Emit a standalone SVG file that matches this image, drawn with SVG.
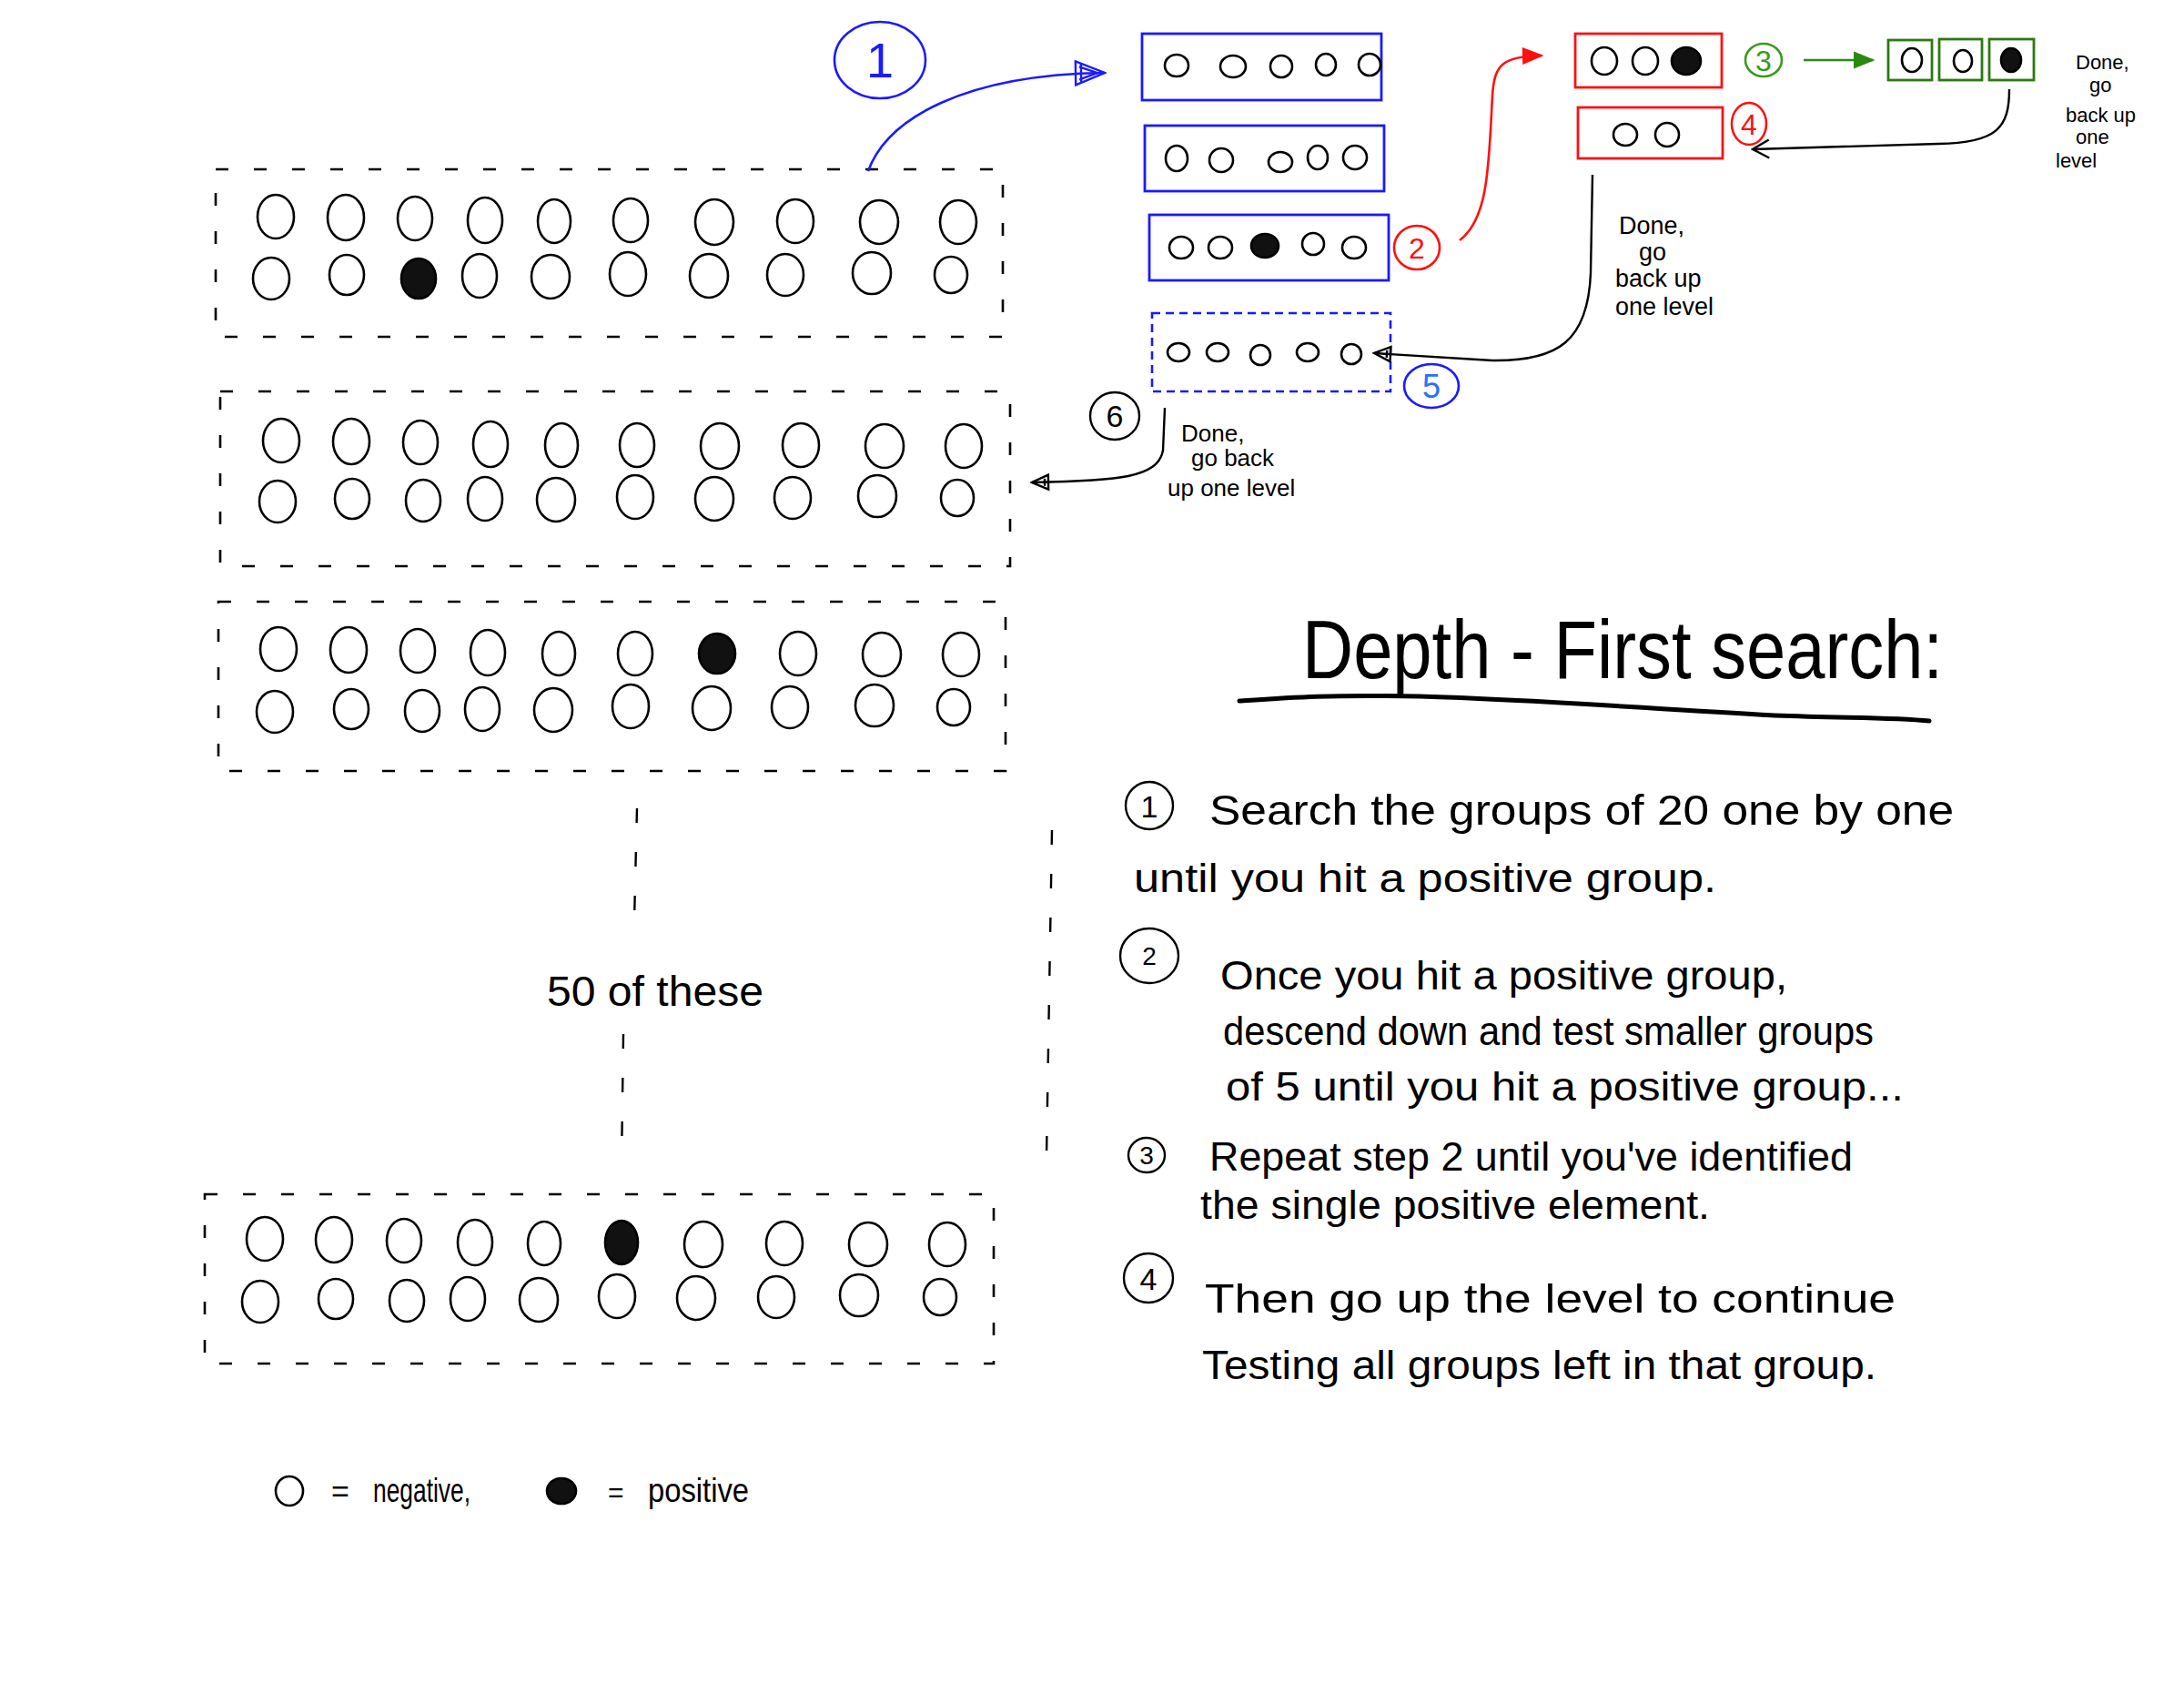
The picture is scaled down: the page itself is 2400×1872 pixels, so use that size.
<svg xmlns="http://www.w3.org/2000/svg" width="2400" height="1872" viewBox="0 0 2400 1872">
<style>
.bg{fill:#ffffff}
.c{fill:none;stroke:#000;stroke-width:2.6}
.p{fill:#111;stroke:#000;stroke-width:2.6}
.grp{fill:none;stroke:#000;stroke-width:2.6;stroke-dasharray:14 28}
.vd{fill:none;stroke:#000;stroke-width:2.4;stroke-dasharray:16 32}
.bbox{fill:none;stroke:#1a1aff;stroke-width:2.8}
.bdash{fill:none;stroke:#1a1aff;stroke-width:2.6;stroke-dasharray:9 6}
.rbox{fill:none;stroke:#ff1010;stroke-width:2.8}
.gbox{fill:none;stroke:#2a7a10;stroke-width:2.8}
.t{font-family:"Liberation Sans","DejaVu Sans",sans-serif;fill:#000}
.tb{font-family:"Liberation Sans","DejaVu Sans",sans-serif;fill:#1a1aff}
.tr{font-family:"Liberation Sans","DejaVu Sans",sans-serif;fill:#ff1010}
.tg{font-family:"Liberation Sans","DejaVu Sans",sans-serif;fill:#3a9a1a}
.blk{fill:none;stroke:#000;stroke-width:2.4}
.blu{fill:none;stroke:#1a1aff;stroke-width:2.6}
.red{fill:none;stroke:#ff1010;stroke-width:2.6}
.grn{fill:none;stroke:#2a8a10;stroke-width:2.6}
</style>
<defs>
<marker id="mBlue" viewBox="0 0 36 30" refX="34" refY="15" markerWidth="36" markerHeight="30" markerUnits="userSpaceOnUse" orient="auto">
<path d="M2,2 L34,15 L2,28 Z M6,8 L26,15 M6,22 L26,15 M8,4 L8,26" fill="none" stroke="#1a1aff" stroke-width="2.4"/>
</marker>
<marker id="mRed" viewBox="0 0 24 20" refX="22" refY="10" markerWidth="24" markerHeight="20" markerUnits="userSpaceOnUse" orient="auto">
<path d="M2,2 L22,10 L2,18 Z" fill="#ff1010" stroke="#ff1010" stroke-width="2"/>
</marker>
<marker id="mGreen" viewBox="0 0 24 20" refX="22" refY="10" markerWidth="24" markerHeight="20" markerUnits="userSpaceOnUse" orient="auto">
<path d="M2,2 L22,10 L2,18 Z" fill="#2a8a10" stroke="#2a8a10" stroke-width="2"/>
</marker>
<marker id="mV" viewBox="0 0 24 24" refX="22" refY="12" markerWidth="24" markerHeight="24" markerUnits="userSpaceOnUse" orient="auto">
<path d="M4,2 L22,12 L4,22" fill="none" stroke="#000" stroke-width="2.4"/>
</marker>
<marker id="mTri" viewBox="0 0 22 20" refX="20" refY="10" markerWidth="22" markerHeight="20" markerUnits="userSpaceOnUse" orient="auto">
<path d="M2,2 L20,10 L2,18 Z M6,6 L6,14" fill="none" stroke="#000" stroke-width="2.4"/>
</marker>
</defs>
<rect class="bg" x="0" y="0" width="2400" height="1872"/>

<!-- Group of 20 #1 -->
<g id="group1">
<rect class="grp" x="237" y="186" width="865" height="184"/>
<ellipse class="c" cx="303" cy="238" rx="20" ry="24"/><ellipse class="c" cx="380" cy="239" rx="20" ry="25"/><ellipse class="c" cx="456" cy="240" rx="19" ry="24"/><ellipse class="c" cx="533" cy="242" rx="19" ry="25"/><ellipse class="c" cx="609" cy="243" rx="18" ry="24"/><ellipse class="c" cx="693" cy="242" rx="19" ry="24"/><ellipse class="c" cx="785" cy="244" rx="21" ry="25"/><ellipse class="c" cx="874" cy="243" rx="20" ry="24"/><ellipse class="c" cx="966" cy="244" rx="21" ry="24"/><ellipse class="c" cx="1053" cy="244" rx="20" ry="24"/>
<ellipse class="c" cx="298" cy="306" rx="20" ry="23"/><ellipse class="c" cx="381" cy="302" rx="19" ry="22"/><ellipse class="p" cx="460" cy="306" rx="19" ry="22"/><ellipse class="c" cx="527" cy="303" rx="19" ry="24"/><ellipse class="c" cx="605" cy="304" rx="21" ry="24"/><ellipse class="c" cx="690" cy="301" rx="20" ry="24"/><ellipse class="c" cx="779" cy="303" rx="21" ry="24"/><ellipse class="c" cx="863" cy="302" rx="20" ry="23"/><ellipse class="c" cx="958" cy="300" rx="21" ry="23"/><ellipse class="c" cx="1045" cy="302" rx="18" ry="20"/>
</g>

<!-- Group of 20 #2 -->
<g id="group2">
<rect class="grp" x="242" y="430" width="868" height="192"/>
<ellipse class="c" cx="309" cy="484" rx="20" ry="24"/><ellipse class="c" cx="386" cy="485" rx="20" ry="25"/><ellipse class="c" cx="462" cy="486" rx="19" ry="24"/><ellipse class="c" cx="539" cy="488" rx="19" ry="25"/><ellipse class="c" cx="617" cy="489" rx="18" ry="24"/><ellipse class="c" cx="700" cy="489" rx="19" ry="24"/><ellipse class="c" cx="791" cy="490" rx="21" ry="25"/><ellipse class="c" cx="880" cy="489" rx="20" ry="24"/><ellipse class="c" cx="972" cy="490" rx="21" ry="24"/><ellipse class="c" cx="1059" cy="490" rx="20" ry="24"/>
<ellipse class="c" cx="305" cy="551" rx="20" ry="23"/><ellipse class="c" cx="387" cy="548" rx="19" ry="22"/><ellipse class="c" cx="465" cy="550" rx="19" ry="23"/><ellipse class="c" cx="533" cy="548" rx="19" ry="24"/><ellipse class="c" cx="611" cy="549" rx="21" ry="24"/><ellipse class="c" cx="698" cy="546" rx="20" ry="24"/><ellipse class="c" cx="785" cy="548" rx="21" ry="24"/><ellipse class="c" cx="871" cy="547" rx="20" ry="23"/><ellipse class="c" cx="964" cy="545" rx="21" ry="23"/><ellipse class="c" cx="1052" cy="547" rx="18" ry="20"/>
</g>

<!-- Group of 20 #3 -->
<g id="group3">
<rect class="grp" x="240" y="661" width="865" height="186"/>
<ellipse class="c" cx="306" cy="713" rx="20" ry="24"/><ellipse class="c" cx="383" cy="714" rx="20" ry="25"/><ellipse class="c" cx="459" cy="715" rx="19" ry="24"/><ellipse class="c" cx="536" cy="717" rx="19" ry="25"/><ellipse class="c" cx="614" cy="718" rx="18" ry="24"/><ellipse class="c" cx="698" cy="718" rx="19" ry="24"/><ellipse class="p" cx="788" cy="718" rx="20" ry="22"/><ellipse class="c" cx="877" cy="718" rx="20" ry="24"/><ellipse class="c" cx="969" cy="719" rx="21" ry="24"/><ellipse class="c" cx="1056" cy="719" rx="20" ry="24"/>
<ellipse class="c" cx="302" cy="782" rx="20" ry="23"/><ellipse class="c" cx="386" cy="779" rx="19" ry="22"/><ellipse class="c" cx="464" cy="781" rx="19" ry="23"/><ellipse class="c" cx="530" cy="779" rx="19" ry="24"/><ellipse class="c" cx="608" cy="780" rx="21" ry="24"/><ellipse class="c" cx="693" cy="776" rx="20" ry="24"/><ellipse class="c" cx="782" cy="778" rx="21" ry="24"/><ellipse class="c" cx="868" cy="777" rx="20" ry="23"/><ellipse class="c" cx="961" cy="775" rx="21" ry="23"/><ellipse class="c" cx="1048" cy="777" rx="18" ry="20"/>
</g>

<!-- Group of 20 #4 (last) -->
<g id="group4">
<rect class="grp" x="225" y="1312" width="867" height="186"/>
<ellipse class="c" cx="291" cy="1361" rx="20" ry="24"/><ellipse class="c" cx="367" cy="1362" rx="20" ry="25"/><ellipse class="c" cx="444" cy="1363" rx="19" ry="24"/><ellipse class="c" cx="522" cy="1365" rx="19" ry="25"/><ellipse class="c" cx="598" cy="1366" rx="18" ry="24"/><ellipse class="p" cx="683" cy="1365" rx="18" ry="24"/><ellipse class="c" cx="773" cy="1367" rx="21" ry="25"/><ellipse class="c" cx="862" cy="1366" rx="20" ry="24"/><ellipse class="c" cx="954" cy="1367" rx="21" ry="24"/><ellipse class="c" cx="1041" cy="1367" rx="20" ry="24"/>
<ellipse class="c" cx="286" cy="1430" rx="20" ry="23"/><ellipse class="c" cx="369" cy="1427" rx="19" ry="22"/><ellipse class="c" cx="447" cy="1429" rx="19" ry="23"/><ellipse class="c" cx="514" cy="1427" rx="19" ry="24"/><ellipse class="c" cx="592" cy="1428" rx="21" ry="24"/><ellipse class="c" cx="678" cy="1424" rx="20" ry="24"/><ellipse class="c" cx="765" cy="1426" rx="21" ry="24"/><ellipse class="c" cx="853" cy="1425" rx="20" ry="23"/><ellipse class="c" cx="944" cy="1423" rx="21" ry="23"/><ellipse class="c" cx="1033" cy="1425" rx="18" ry="20"/>
</g>

<!-- continuation marks and label -->
<g id="continuation">
<path class="vd" d="M700,888 L697,1012"/>
<path class="vd" d="M685,1136 L683,1280"/>
<path class="vd" d="M1156,912 L1150,1270"/>
<text class="t" x="601" y="1105" font-size="46" textLength="238" lengthAdjust="spacingAndGlyphs">50 of these</text>
</g>

<!-- level-2 groups of 5 -->
<g id="sub1">
<rect class="bbox" x="1255" y="37" width="263" height="73"/>
<ellipse class="c" cx="1293" cy="72" rx="13" ry="12"/><ellipse class="c" cx="1355" cy="73" rx="14" ry="12"/><ellipse class="c" cx="1408" cy="73" rx="12" ry="12"/><ellipse class="c" cx="1457" cy="71" rx="11" ry="12"/><ellipse class="c" cx="1505" cy="71" rx="12" ry="12"/>
</g>
<g id="sub2">
<rect class="bbox" x="1258" y="138" width="263" height="72"/>
<ellipse class="c" cx="1293" cy="174" rx="12" ry="14"/><ellipse class="c" cx="1342" cy="176" rx="13" ry="13"/><ellipse class="c" cx="1407" cy="178" rx="13" ry="11"/><ellipse class="c" cx="1448" cy="173" rx="11" ry="13"/><ellipse class="c" cx="1489" cy="173" rx="13" ry="13"/>
</g>
<g id="sub3">
<rect class="bbox" x="1263" y="236" width="263" height="72"/>
<ellipse class="c" cx="1298" cy="272" rx="13" ry="12"/><ellipse class="c" cx="1341" cy="272" rx="13" ry="12"/><ellipse class="p" cx="1390" cy="270" rx="15" ry="13"/><ellipse class="c" cx="1443" cy="268" rx="12" ry="12"/><ellipse class="c" cx="1488" cy="272" rx="13" ry="12"/>
</g>
<g id="sub4">
<rect class="bdash" x="1266" y="344" width="262" height="86"/>
<ellipse class="c" cx="1295" cy="387" rx="12" ry="10"/><ellipse class="c" cx="1338" cy="387" rx="12" ry="10"/><ellipse class="c" cx="1385" cy="390" rx="11" ry="11"/><ellipse class="c" cx="1437" cy="387" rx="12" ry="10"/><ellipse class="c" cx="1485" cy="389" rx="11" ry="11"/>
</g>

<!-- level-3 groups -->
<g id="sub3a">
<rect class="rbox" x="1731" y="37" width="161" height="59"/>
<ellipse class="c" cx="1763" cy="67" rx="14" ry="15"/><ellipse class="c" cx="1808" cy="67" rx="14" ry="15"/><ellipse class="p" cx="1853" cy="67" rx="16" ry="15"/>
</g>
<g id="sub3b">
<rect class="rbox" x="1734" y="118" width="159" height="56"/>
<ellipse class="c" cx="1786" cy="148" rx="13" ry="12"/><ellipse class="c" cx="1832" cy="148" rx="13" ry="13"/>
</g>

<!-- single elements -->
<g id="single1"><rect class="gbox" x="2075" y="44" width="48" height="44"/><ellipse class="c" cx="2101" cy="66" rx="11" ry="13"/></g>
<g id="single2"><rect class="gbox" x="2131" y="43" width="47" height="45"/><ellipse class="c" cx="2157" cy="67" rx="10" ry="12"/></g>
<g id="single3"><rect class="gbox" x="2186" y="43" width="49" height="45"/><ellipse class="p" cx="2210" cy="66" rx="11" ry="13"/></g>

<!-- step markers -->
<g id="step1">
<ellipse class="blu" cx="967" cy="66" rx="50" ry="42"/>
<text class="tb" x="967" y="85" font-size="54" text-anchor="middle">1</text>
</g>
<g id="step2">
<ellipse class="red" cx="1557" cy="272" rx="25" ry="24"/>
<text class="tr" x="1557" y="284" font-size="32" text-anchor="middle">2</text>
</g>
<g id="step3">
<ellipse class="grn" cx="1938" cy="66" rx="20" ry="18" style="stroke:#3a9a1a"/>
<text class="tg" x="1938" y="78" font-size="32" text-anchor="middle">3</text>
</g>
<g id="step4">
<ellipse class="red" cx="1922" cy="136" rx="19" ry="23"/>
<text class="tr" x="1922" y="148" font-size="32" text-anchor="middle">4</text>
</g>
<g id="step5">
<ellipse class="blu" cx="1573" cy="424" rx="30" ry="24"/>
<text class="tb" x="1573" y="437" font-size="36" text-anchor="middle" style="fill:#2a70ff">5</text>
</g>
<g id="step6">
<ellipse class="blk" cx="1225" cy="457" rx="27" ry="26"/>
<text class="t" x="1225" y="469" font-size="34" text-anchor="middle">6</text>
</g>

<!-- notes -->
<g id="note-top">
<text class="t" font-size="22"><tspan x="2281" y="76">Done,</tspan><tspan x="2296" y="101">go</tspan><tspan x="2270" y="134">back up</tspan><tspan x="2281" y="158">one</tspan><tspan x="2259" y="184">level</tspan></text>
</g>
<g id="note-mid">
<text class="t" font-size="27"><tspan x="1779" y="257">Done,</tspan><tspan x="1801" y="286">go</tspan><tspan x="1775" y="315">back up</tspan><tspan x="1775" y="346">one level</tspan></text>
</g>
<g id="note-low">
<text class="t" font-size="26"><tspan x="1298" y="485">Done,</tspan><tspan x="1309" y="512">go back</tspan><tspan x="1283" y="545">up one level</tspan></text>
</g>

<!-- connectors -->
<g id="connectors">
<path class="blu" d="M954,188 C975,130 1060,82 1214,80" marker-end="url(#mBlue)"/>
<path class="red" d="M1604,264 C1636,240 1636,180 1640,105 C1642,70 1652,62 1694,61" marker-end="url(#mRed)"/>
<path class="grn" d="M1982,66 L2058,66" marker-end="url(#mGreen)"/>
<path class="blk" d="M2208,98 C2208,140 2195,157 2130,158 L1926,164" marker-end="url(#mV)"/>
<path class="blk" d="M1750,192 L1748,300 C1745,375 1712,397 1640,396 L1510,388" marker-end="url(#mTri)"/>
<path class="blk" d="M1280,448 L1278,495 C1272,525 1230,528 1134,530" marker-end="url(#mTri)"/>
</g>

<!-- title -->
<g id="title">
<text class="t" x="1431" y="745" font-size="90" textLength="704" lengthAdjust="spacingAndGlyphs">Depth - First  search:</text>
<path d="M1362,770 C1420,766 1460,763 1560,765 C1700,769 1800,778 1950,786 C2030,789 2080,788 2120,792" fill="none" stroke="#000" stroke-width="5" stroke-linecap="round"/>
</g>

<!-- instructions -->
<g id="instructions">
<ellipse class="blk" cx="1263" cy="885" rx="26" ry="26"/><text class="t" x="1263" y="898" font-size="34" text-anchor="middle">1</text>
<text class="t" x="1329" y="906" font-size="46" textLength="818" lengthAdjust="spacingAndGlyphs">Search the groups of 20 one by one</text>
<text class="t" x="1246" y="980" font-size="44" textLength="640" lengthAdjust="spacingAndGlyphs">until you hit a positive group.</text>
<ellipse class="blk" cx="1263" cy="1050" rx="32" ry="30"/><text class="t" x="1263" y="1060" font-size="28" text-anchor="middle">2</text>
<text class="t" x="1341" y="1087" font-size="44" textLength="623" lengthAdjust="spacingAndGlyphs">Once you hit a positive group,</text>
<text class="t" x="1344" y="1148" font-size="44" textLength="715" lengthAdjust="spacingAndGlyphs">descend down and test smaller groups</text>
<text class="t" x="1347" y="1209" font-size="44" textLength="745" lengthAdjust="spacingAndGlyphs">of 5 until you hit a positive group...</text>
<ellipse class="blk" cx="1260" cy="1269" rx="20" ry="19"/><text class="t" x="1260" y="1279" font-size="28" text-anchor="middle">3</text>
<text class="t" x="1329" y="1286" font-size="44" textLength="707" lengthAdjust="spacingAndGlyphs">Repeat step 2 until you've identified</text>
<text class="t" x="1319" y="1339" font-size="44" textLength="560" lengthAdjust="spacingAndGlyphs">the single positive element.</text>
<ellipse class="blk" cx="1262" cy="1404" rx="27" ry="27"/><text class="t" x="1262" y="1417" font-size="34" text-anchor="middle">4</text>
<text class="t" x="1324" y="1442" font-size="44" textLength="759" lengthAdjust="spacingAndGlyphs">Then go up the level to continue</text>
<text class="t" x="1321" y="1515" font-size="44" textLength="741" lengthAdjust="spacingAndGlyphs">Testing all groups left in that group.</text>
</g>

<!-- legend -->
<g id="legend">
<ellipse class="c" cx="318" cy="1638" rx="15" ry="16"/>
<text class="t" x="364" y="1650" font-size="34">=</text>
<text class="t" x="410" y="1650" font-size="36" textLength="107" lengthAdjust="spacingAndGlyphs">negative,</text>
<ellipse class="p" cx="617" cy="1638" rx="16" ry="14"/>
<text class="t" x="668" y="1650" font-size="30">=</text>
<text class="t" x="712" y="1650" font-size="36" textLength="111" lengthAdjust="spacingAndGlyphs">positive</text>
</g>
</svg>
